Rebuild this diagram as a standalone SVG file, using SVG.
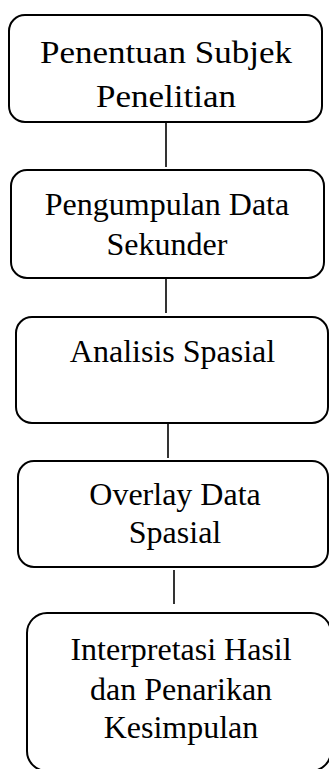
<svg xmlns="http://www.w3.org/2000/svg" width="329" height="769" viewBox="0 0 329 769">
<style>
.box{fill:#fff;stroke:#000;stroke-width:2}
.conn{stroke:#000;stroke-width:1.6;fill:none}
.t{font-family:'Liberation Serif','DejaVu Serif',serif;font-size:32px;fill:#000;text-anchor:middle}
.t1{font-size:31px}
</style>
<rect width="329" height="769" fill="#fff"/>
<g id="connectors">
<line class="conn" x1="166" y1="123" x2="166" y2="167"/>
<line class="conn" x1="166" y1="278" x2="166" y2="313"/>
<line class="conn" x1="168" y1="423" x2="168" y2="458"/>
<line class="conn" x1="174" y1="570" x2="174" y2="604"/>
</g>
<g id="n1">
<rect class="box" x="9" y="15" width="313" height="107" rx="16"/>
<text class="t t1" x="166" y="63" textLength="252" lengthAdjust="spacingAndGlyphs">Penentuan Subjek</text>
<text class="t t1" x="166" y="107" textLength="140" lengthAdjust="spacingAndGlyphs">Penelitian</text>
</g>
<g id="n2">
<rect class="box" x="11" y="170" width="313" height="108" rx="16"/>
<text class="t" x="167" y="215">Pengumpulan Data</text>
<text class="t" x="167" y="255">Sekunder</text>
</g>
<g id="n3">
<rect class="box" x="16" y="317" width="312" height="106" rx="16"/>
<text class="t" x="172.5" y="362">Analisis Spasial</text>
</g>
<g id="n4">
<rect class="box" x="18" y="461" width="310" height="106" rx="16"/>
<text class="t" x="175" y="505">Overlay Data</text>
<text class="t" x="175" y="543">Spasial</text>
</g>
<g id="n5">
<rect class="box" x="27" y="613" width="304" height="158" rx="20"/>
<text class="t" x="181" y="660">Interpretasi Hasil</text>
<text class="t" x="181" y="700">dan Penarikan</text>
<text class="t" x="181" y="738">Kesimpulan</text>
</g>
</svg>
